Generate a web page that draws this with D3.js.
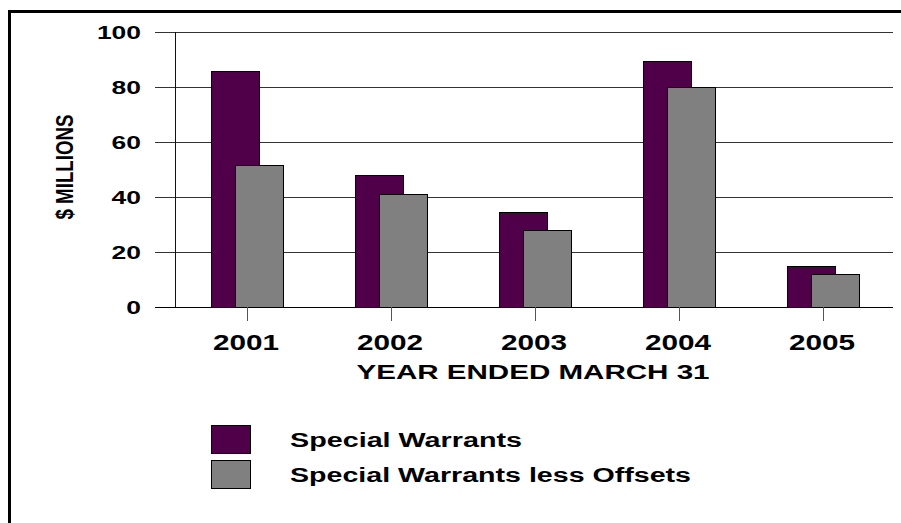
<!DOCTYPE html>
<html>
<head>
<meta charset="utf-8">
<script src="https://cdn.jsdelivr.net/npm/d3@7"></script>
<style>
  html, body { margin: 0; padding: 0; background: #fff; }
  svg { display: block; }
  text { font-family: "Liberation Sans", Arial, sans-serif; font-weight: bold; fill: #000; }
</style>
</head>
<body>
<svg id="chart" width="901" height="523"></svg>
<script>
// ---- data ----
const categories = ["2001", "2002", "2003", "2004", "2005"];
const specialWarrants = [86, 48, 34.5, 89.5, 15];
const lessOffsets = [51.5, 41, 28, 80, 12];
const yTicks = [0, 20, 40, 60, 80, 100];
const seriesNames = ["Special Warrants", "Special Warrants less Offsets"];
const seriesColors = ["#4f0049", "#808080"];
const xTitle = "YEAR ENDED MARCH 31";
const yTitle = "$ MILLIONS";

// ---- layout ----
const svg = d3.select("#chart");
const plotLeft = 175, plotRight = 895, plotTop = 32, plotBottom = 307;
const gridStart = 155, gridEnd = 893;

const x = d3.scaleBand().domain(categories).range([plotLeft, plotRight]).padding(0);
const y = d3.scaleLinear().domain([0, 100]).range([plotBottom, plotTop]);

// outer frame (top and left only)
svg.append("line").attr("x1", 9.5).attr("x2", 901).attr("y1", 11.5).attr("y2", 11.5)
  .attr("stroke", "#000").attr("stroke-width", 3);
svg.append("line").attr("x1", 9.5).attr("x2", 9.5).attr("y1", 10).attr("y2", 523)
  .attr("stroke", "#000").attr("stroke-width", 3);

// gridlines
svg.append("g").selectAll("line").data(yTicks.filter(d => d > 0)).join("line")
  .attr("x1", gridStart).attr("x2", gridEnd)
  .attr("y1", d => Math.round(y(d)) + 0.5).attr("y2", d => Math.round(y(d)) + 0.5)
  .attr("stroke", "#333").attr("stroke-width", 1);

// vertical axis line
svg.append("line").attr("x1", plotLeft + 0.5).attr("x2", plotLeft + 0.5)
  .attr("y1", Math.round(y(100))).attr("y2", plotBottom)
  .attr("stroke", "#111").attr("stroke-width", 1);

// y tick labels
svg.append("g").selectAll("text").data(yTicks).join("text")
  .attr("transform", d => `translate(141,${y(d) + 6.5}) scale(1.47,1)`)
  .attr("text-anchor", "end")
  .style("font-size", "18px")
  .text(d => d);

// bars
const barW = 48;
const bars = svg.append("g");
categories.forEach((c, i) => {
  const cx = x(c) + x.bandwidth() / 2;
  bars.append("rect")
    .attr("x", cx - 36 + 0.5).attr("width", barW)
    .attr("y", Math.round(y(specialWarrants[i])) + 0.5)
    .attr("height", plotBottom - Math.round(y(specialWarrants[i])))
    .attr("fill", seriesColors[0]).attr("stroke", "#000").attr("stroke-width", 1);
  bars.append("rect")
    .attr("x", cx - 12 + 0.5).attr("width", barW)
    .attr("y", Math.round(y(lessOffsets[i])) + 0.5)
    .attr("height", plotBottom - Math.round(y(lessOffsets[i])))
    .attr("fill", seriesColors[1]).attr("stroke", "#000").attr("stroke-width", 1);
});

// x axis baseline
svg.append("line").attr("x1", gridStart).attr("x2", gridEnd)
  .attr("y1", plotBottom + 0.5).attr("y2", plotBottom + 0.5)
  .attr("stroke", "#000").attr("stroke-width", 1);

// x ticks
svg.append("g").selectAll("line").data(categories).join("line")
  .attr("x1", d => Math.round(x(d) + x.bandwidth() / 2) + 0.5)
  .attr("x2", d => Math.round(x(d) + x.bandwidth() / 2) + 0.5)
  .attr("y1", plotBottom).attr("y2", plotBottom + 14)
  .attr("stroke", "#555").attr("stroke-width", 1);

// x tick labels
svg.append("g").selectAll("text").data(categories).join("text")
  .attr("transform", d => `translate(${x(d) + x.bandwidth() / 2 - 1},350) scale(1.35,1)`)
  .attr("text-anchor", "middle")
  .style("font-size", "22px")
  .text(d => d);

// x title
svg.append("text").attr("x", 533).attr("y", 379)
  .attr("text-anchor", "middle")
  .attr("textLength", 353).attr("lengthAdjust", "spacingAndGlyphs")
  .style("font-size", "21px").text(xTitle);

// y title
svg.append("text").attr("transform", "translate(73,167) rotate(-90)")
  .attr("text-anchor", "middle")
  .attr("textLength", 105).attr("lengthAdjust", "spacingAndGlyphs")
  .style("font-size", "23px").text(yTitle);

// legend
const legendY = [425, 460];
const legendW = [232, 401];
seriesNames.forEach((name, i) => {
  svg.append("rect").attr("x", 211.5).attr("y", legendY[i] + 0.5)
    .attr("width", 39).attr("height", 28)
    .attr("fill", seriesColors[i]).attr("stroke", "#000").attr("stroke-width", 1);
  svg.append("text").attr("x", 290).attr("y", legendY[i] + 22)
    .attr("textLength", legendW[i]).attr("lengthAdjust", "spacingAndGlyphs")
    .style("font-size", "20px").text(name);
});
</script>
</body>
</html>
